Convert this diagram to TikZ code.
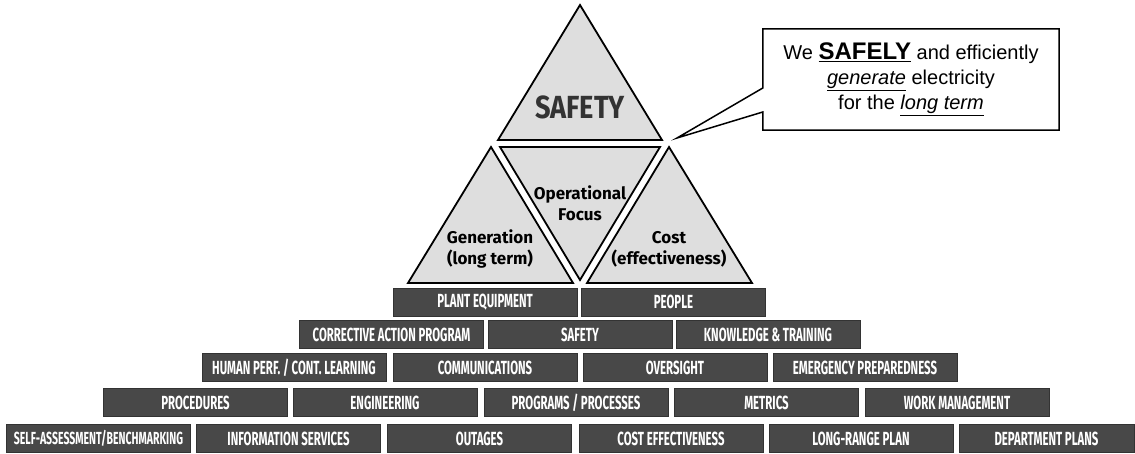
\documentclass[tikz,border=0pt]{standalone}
\usepackage{fontspec}
\setmainfont{Liberation Sans}
\newfontfamily\barfont[FakeStretch=0.6]{Fira Sans}
\newfontfamily\safetyfont[FakeStretch=0.85]{Fira Sans}
\newfontfamily\trifont{Fira Sans}
\usepackage{tikz}
\usetikzlibrary{positioning,calc}
\definecolor{bargray}{RGB}{72,72,72}
\definecolor{trigray}{RGB}{222,222,222}
\tikzset{
  bar/.style={fill=bargray, draw=black!80, line width=0.6pt, minimum width=184pt,
              minimum height=28pt, inner sep=0pt, text=white,
              font=\barfont\bfseries\fontsize{19}{19}\selectfont},
  tri/.style={fill=trigray, draw=black, line width=1.8pt, line join=miter},
  trilabel/.style={align=center, font=\trifont\bfseries\fontsize{17}{21}\selectfont}
}

\begin{document}
\begin{tikzpicture}[x=1pt,y=-1pt]
    \useasboundingbox (0,0) rectangle (1135,454);

    % triangles
    \draw[tri] (580,5) -- (662,140) -- (498,140) -- cycle;
    \draw[tri] (491,147) -- (573,283) -- (408,283) -- cycle;
    \draw[tri] (669,147) -- (752,283) -- (587,283) -- cycle;
    \draw[tri] (500,147) -- (660,147) -- (580,280) -- cycle;

    \node[font=\safetyfont\bfseries\fontsize{32}{32}\selectfont, text=black!80] (safety) at (580,107) {SAFETY};
    \node[trilabel] (opfocus) at (580,203) {Operational\\Focus};
    \node[trilabel] (generation) at (490,249) {Generation\\(long term)};
    \node[trilabel] (cost) at (669,249) {Cost\\(effectiveness)};

    % callout
    \node[minimum width=296pt, minimum height=101pt, align=center,
          font=\fontsize{20}{25}\selectfont] (box) at (911,79.5)
        {We {\fontsize{24}{25}\selectfont\bfseries\underline{SAFELY}} and efficiently\\
         \underline{\textit{generate}} electricity\\
         for the \underline{\textit{long term}}};
    \coordinate (tip) at (677,138);
    \draw[line width=1.5pt, line join=miter] (box.north west) -- ([yshift=-8.5pt]box.west) -- (tip)
        -- ([yshift=-32.5pt]box.west) -- (box.south west) -- (box.south east)
        -- (box.north east) -- cycle;

    % pillars
    \foreach \cx/\lbl [count=\i] in {485/PLANT EQUIPMENT, 673.5/PEOPLE}
        \node[bar] (rowa\i) at (\cx,302) {\lbl};
    \foreach \cx/\lbl [count=\i] in {391.5/CORRECTIVE ACTION PROGRAM, 580/SAFETY,
                                     768/KNOWLEDGE \& TRAINING}
        \node[bar] (rowb\i) at (\cx,334.5) {\lbl};
    \foreach \cx/\lbl [count=\i] in {294/{HUMAN PERF. / CONT. LEARNING}, 485/COMMUNICATIONS,
                                     675/OVERSIGHT, 865/EMERGENCY PREPAREDNESS}
        \node[bar] (rowc\i) at (\cx,367.5) {\lbl};
    \foreach \cx/\lbl [count=\i] in {195.5/PROCEDURES, 385/ENGINEERING, 576/{PROGRAMS / PROCESSES},
                                     766.5/METRICS, 957/WORK MANAGEMENT}
        \node[bar] (rowd\i) at (\cx,402.5) {\lbl};
    \foreach \cx/\lbl [count=\i] in {98.5/{\fontsize{17.5}{17.5}\selectfont SELF-ASSESSMENT/BENCHMARKING},
                                     288.5/INFORMATION SERVICES, 479.5/OUTAGES,
                                     671/COST EFFECTIVENESS, 861/LONG-RANGE PLAN}
        \node[bar] (rowe\i) at (\cx,438.5) {\lbl};
    \node[bar, minimum width=175pt] (rowe6) at (1046.5,438.5) {DEPARTMENT PLANS};
\end{tikzpicture}
\end{document}
